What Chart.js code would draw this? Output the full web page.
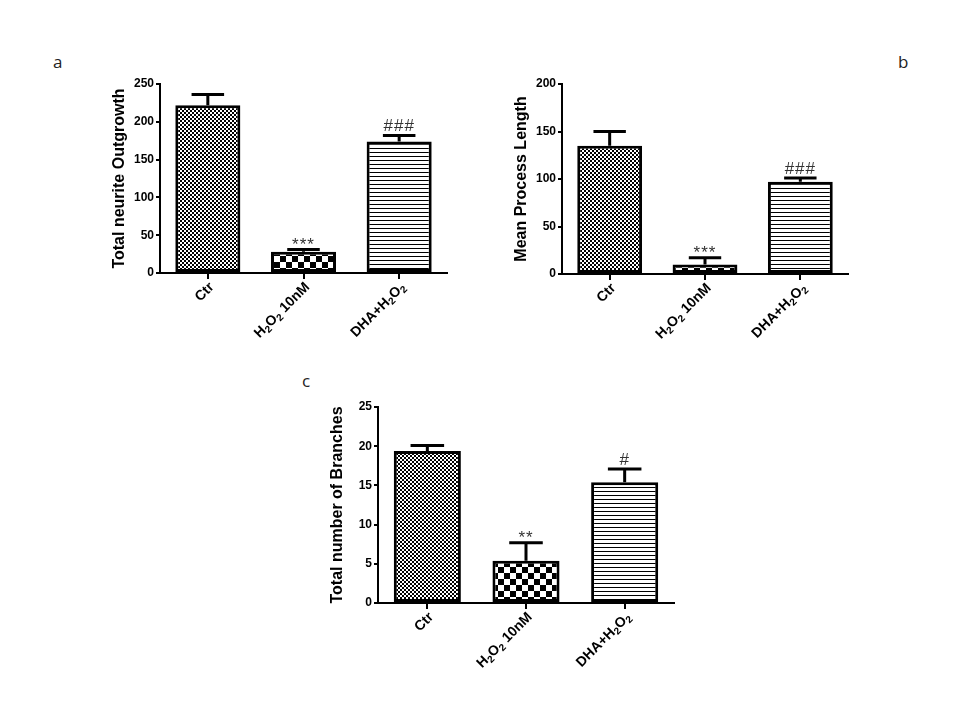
<!DOCTYPE html>
<html>
<head>
<meta charset="utf-8">
<script src="https://cdn.jsdelivr.net/npm/chart.js@4.4.1/dist/chart.umd.min.js"></script>
<style>
  body { margin: 0; background: #fff; }
  #page { position: relative; width: 960px; height: 720px; background: #fff; }
  canvas { position: absolute; }
  .tag { position: absolute; font-family: 'Open Sans', sans-serif; font-size: 17px; color: #222; }
</style>
</head>
<body>
<div id="page">
  <div class="tag" style="left:53px; top:50px;">a</div>
  <div class="tag" style="left:898px; top:50px;">b</div>
  <div class="tag" style="left:302px; top:369px;">c</div>
  <canvas id="chartA"></canvas>
  <canvas id="chartB"></canvas>
  <canvas id="chartC"></canvas>
</div>
<script>
const categories = ['Ctr', 'H\u2082O\u2082 10nM', 'DHA+H\u2082O\u2082'];

const outgrowthMean = [222, 28, 174];
const outgrowthErr = [14, 3, 8];
const outgrowthSig = ['', '***', '###'];

const processMean = [135, 10, 97];
const processErr = [15, 7, 4];
const processSig = ['', '***', '###'];

const branchMean = [19.4, 5.4, 15.4];
const branchErr = [0.7, 2.3, 1.7];
const branchSig = ['', '**', '#'];

const font = "'Liberation Sans', Arial, 'DejaVu Sans', sans-serif";

function makePattern(kind) {
    const c = document.createElement('canvas');
    const g = c.getContext('2d');
    if (kind === 'fine') {
        c.width = 4; c.height = 4;
        g.fillStyle = '#fff'; g.fillRect(0, 0, 4, 4);
        g.fillStyle = '#000';
        g.fillRect(0, 0, 2, 2); g.fillRect(2, 2, 2, 2);
    } else if (kind === 'coarse') {
        c.width = 12; c.height = 12;
        g.fillStyle = '#fff'; g.fillRect(0, 0, 12, 12);
        g.fillStyle = '#000';
        g.fillRect(0, 0, 6, 6); g.fillRect(6, 6, 6, 6);
    } else {
        c.width = 4; c.height = 4;
        g.fillStyle = '#fff'; g.fillRect(0, 0, 4, 4);
        g.fillStyle = '#000';
        g.fillRect(0, 0, 4, 1);
    }
    return g.createPattern(c, 'repeat');
}

// split a label into normal / subscript runs (unicode subscript digits)
function runs(label) {
    const out = [];
    for (const ch of label) {
        const code = ch.charCodeAt(0);
        const sub = code >= 0x2080 && code <= 0x2089;
        const txt = sub ? String(code - 0x2080) : ch;
        if (out.length && out[out.length - 1].sub === sub) out[out.length - 1].t += txt;
        else out.push({ t: txt, sub: sub });
    }
    return out;
}

const xLabels = {
    id: 'xLabels',
    afterDraw(chart) {
        const ctx = chart.ctx;
        const x = chart.scales.x;
        const base = chart.chartArea.bottom;
        const big = 'bold 14px ' + font;
        const small = 'bold 10px ' + font;
        chart.data.labels.forEach((label, i) => {
            const px = x.getPixelForValue(i);
            const parts = runs(label);
            ctx.save();
            ctx.fillStyle = '#000';
            ctx.textBaseline = 'middle';
            ctx.translate(px + 4, base + 12);
            ctx.rotate(-Math.PI / 4);
            let total = 0;
            parts.forEach(p => { ctx.font = p.sub ? small : big; total += ctx.measureText(p.t).width; });
            let cx = -total;
            parts.forEach(p => {
                ctx.font = p.sub ? small : big;
                ctx.textAlign = 'left';
                ctx.fillText(p.t, cx, p.sub ? 4 : 0);
                cx += ctx.measureText(p.t).width;
            });
            ctx.restore();
        });
    }
};

const errorBars = {
    id: 'errorBars',
    afterDatasetsDraw(chart, args, opts) {
        const ctx = chart.ctx;
        const y = chart.scales.y;
        const meta = chart.getDatasetMeta(0);
        const ds = chart.data.datasets[0];
        meta.data.forEach((bar, i) => {
            const top = y.getPixelForValue(ds.data[i] + opts.err[i]);
            const half = bar.width * 0.25;
            ctx.save();
            ctx.strokeStyle = '#000';
            ctx.lineWidth = 3;
            ctx.beginPath();
            ctx.moveTo(bar.x, bar.y);
            ctx.lineTo(bar.x, top);
            ctx.moveTo(bar.x - half, top);
            ctx.lineTo(bar.x + half, top);
            ctx.stroke();
            if (opts.sig[i]) {
                ctx.fillStyle = '#333';
                ctx.font = '17px ' + font;
                ctx.letterSpacing = '1px';
                ctx.textAlign = 'center';
                ctx.textBaseline = 'alphabetic';
                const off = opts.sig[i][0] === '*' ? 0 : 4;
                ctx.fillText(opts.sig[i], bar.x, top - off);
            }
            ctx.restore();
        });
    }
};

function panel(id, area, values, err, sig, yMax, step, title) {
    const cv = document.getElementById(id);
    const padL = 10, padT = 20, padR = 13, yW = 50, xH = 91;
    const w = area.r - area.l + padL + yW + padR;
    const h = area.b - area.t + padT + xH;
    cv.width = w; cv.height = h;
    cv.style.left = (area.l - padL - yW) + 'px';
    cv.style.top = (area.t - padT) + 'px';
    cv.style.width = w + 'px';
    cv.style.height = h + 'px';

    return new Chart(cv.getContext('2d'), {
        type: 'bar',
        data: {
            labels: categories,
            datasets: [{
                data: values,
                backgroundColor: [makePattern('fine'), makePattern('coarse'), makePattern('lines')],
                borderColor: '#000',
                borderWidth: 3,
                borderSkipped: false,
                barPercentage: 0.68,
                categoryPercentage: 1
            }]
        },
        options: {
            responsive: false,
            animation: false,
            layout: { padding: { left: padL, top: padT, right: padR, bottom: 0 } },
            plugins: {
                legend: { display: false },
                tooltip: { enabled: false },
                errorBars: { err: err, sig: sig }
            },
            scales: {
                x: {
                    afterFit: s => { s.height = xH; },
                    grid: { display: true, drawOnChartArea: false, offset: false, color: '#000', lineWidth: 2, tickLength: 6 },
                    border: { display: true, color: '#000', width: 2 },
                    ticks: { display: false }
                },
                y: {
                    min: 0, max: yMax,
                    afterFit: s => { s.width = yW; },
                    grid: { display: true, drawOnChartArea: false, color: '#000', lineWidth: 2, tickLength: 4 },
                    border: { display: true, color: '#000', width: 2 },
                    ticks: {
                        stepSize: step,
                        color: '#000',
                        padding: 2,
                        font: { family: font, size: 12, weight: 'bold' }
                    },
                    title: {
                        display: true,
                        text: title,
                        color: '#000',
                        padding: 0,
                        font: { family: font, size: 16, weight: 'bold' }
                    }
                }
            }
        },
        plugins: [errorBars, xLabels]
    });
}

panel('chartA', { l: 160, r: 447, t: 84, b: 273 }, outgrowthMean, outgrowthErr, outgrowthSig, 250, 50, 'Total neurite Outgrowth');
panel('chartB', { l: 562, r: 848, t: 84, b: 274 }, processMean, processErr, processSig, 200, 50, 'Mean Process Length');
panel('chartC', { l: 378, r: 674, t: 407, b: 603 }, branchMean, branchErr, branchSig, 25, 5, 'Total number of Branches');
</script>
</body>
</html>
